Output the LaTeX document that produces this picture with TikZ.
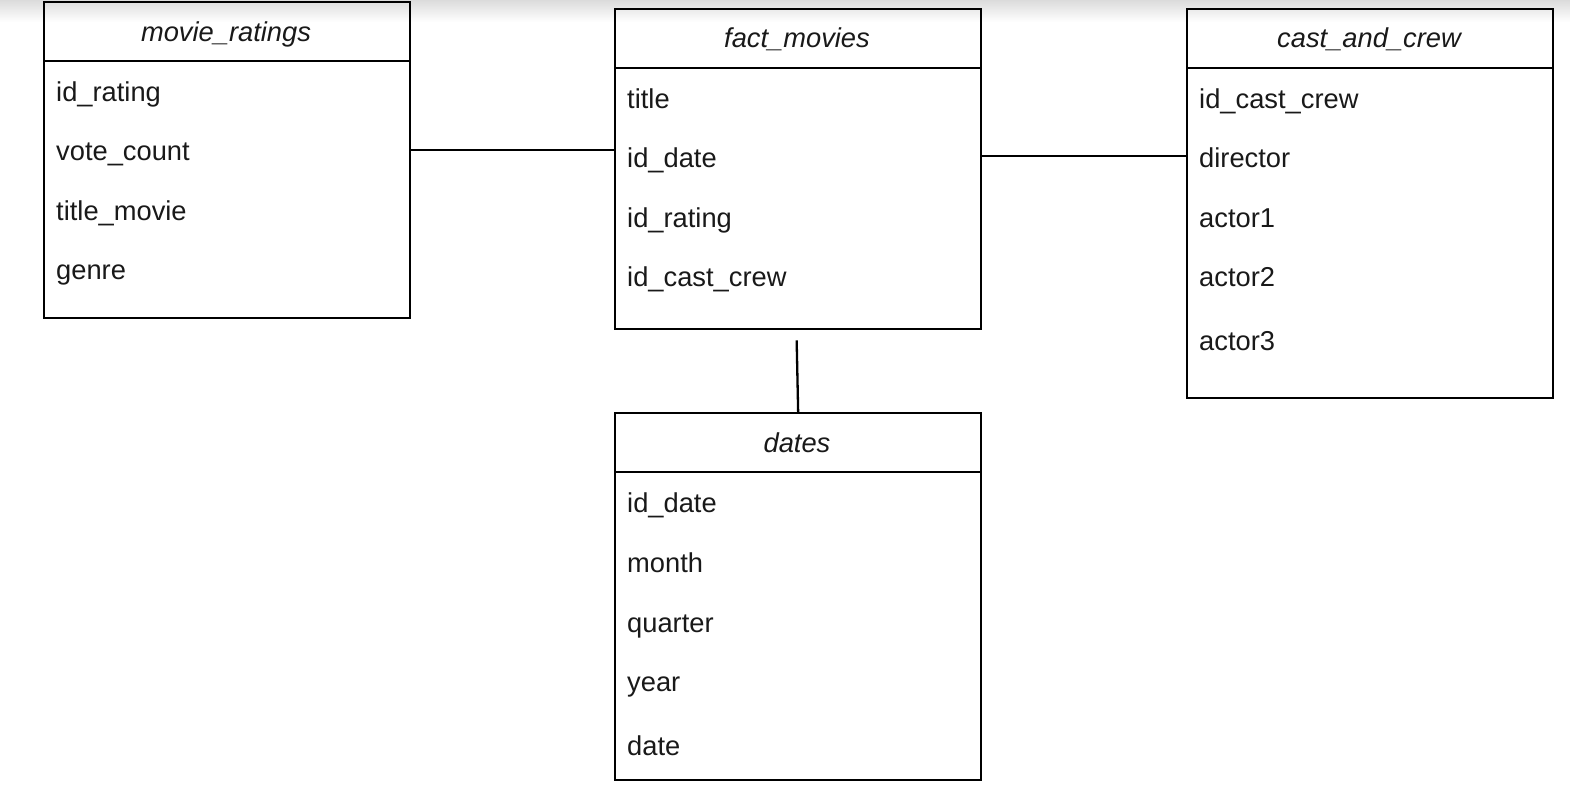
\documentclass[tikz,border=0pt]{standalone}
\usepackage{fontspec}
\setmainfont{Liberation Sans}
\usetikzlibrary{positioning}

\tikzset{
  tbl/.style={draw=black, line width=2.3pt, anchor=north west, minimum width=366pt, inner sep=0pt},
  field/.style={anchor=base west, inner sep=0pt, text=black!90, font=\fontsize{27.3}{30}\selectfont},
  tbltitle/.style={anchor=base, inner sep=0pt, text=black!90, font=\fontsize{27.3}{30}\selectfont\itshape},
  link/.style={draw=black, line width=2.3pt}
}

\begin{document}
\begin{tikzpicture}[x=1pt, y=-1pt]
  \useasboundingbox (0,0) rectangle (1570,801);
  % soft shadow along the top edge
  \shade[top color=black!14, bottom color=white] (0,0) rectangle (1570,22);

  % movie_ratings table
  \node[tbl, minimum height=316pt] (ratings) at (43,1) {};
  \draw[link] ([yshift=-60pt]ratings.north west) -- ([yshift=-60pt]ratings.north east);
  \node[tbltitle] (rtitle) at (226,41) {movie\_ratings};
  \node[field] (rid) at (56,101) {id\_rating};
  \node[field] (rvote) at (56,160) {vote\_count};
  \node[field] (rtitlemovie) at (56,220) {title\_movie};
  \node[field] (rgenre) at (56,279) {genre};

  % fact_movies table
  \node[tbl, minimum height=320pt] (facts) at (614,8) {};
  \draw[link] ([yshift=-60pt]facts.north west) -- ([yshift=-60pt]facts.north east);
  \node[tbltitle] (ftitle) at (797,47) {fact\_movies};
  \node[field] (fname) at (627,108) {title};
  \node[field] (fdate) at (627,167) {id\_date};
  \node[field] (frating) at (627,227) {id\_rating};
  \node[field] (fcast) at (627,286) {id\_cast\_crew};

  % cast_and_crew table
  \node[tbl, minimum height=389pt] (cast) at (1186,8) {};
  \draw[link] ([yshift=-60pt]cast.north west) -- ([yshift=-60pt]cast.north east);
  \node[tbltitle] (ctitle) at (1369,47) {cast\_and\_crew};
  \node[field] (cid) at (1199,108) {id\_cast\_crew};
  \node[field] (cdirector) at (1199,167) {director};
  \node[field] (cactora) at (1199,227) {actor1};
  \node[field] (cactorb) at (1199,286) {actor2};
  \node[field] (cactorc) at (1199,350) {actor3};

  % dates table
  \node[tbl, minimum height=367pt] (dates) at (614,412) {};
  \draw[link] ([yshift=-60pt]dates.north west) -- ([yshift=-60pt]dates.north east);
  \node[tbltitle] (dtitle) at (797,452) {dates};
  \node[field] (did) at (627,512) {id\_date};
  \node[field] (dmonth) at (627,572) {month};
  \node[field] (dquarter) at (627,632) {quarter};
  \node[field] (dyear) at (627,691) {year};
  \node[field] (ddate) at (627,755) {date};

  % connectors
  \draw[link] (ratings.east |- 0,150) -- (facts.west |- 0,150);
  \draw[link] (facts.east |- 0,156) -- (cast.west |- 0,156);
  \coordinate[below=10pt of facts.south, xshift=-1.5pt] (gap);
  \draw[link] (gap) -- (dates.north);
\end{tikzpicture}
\end{document}
